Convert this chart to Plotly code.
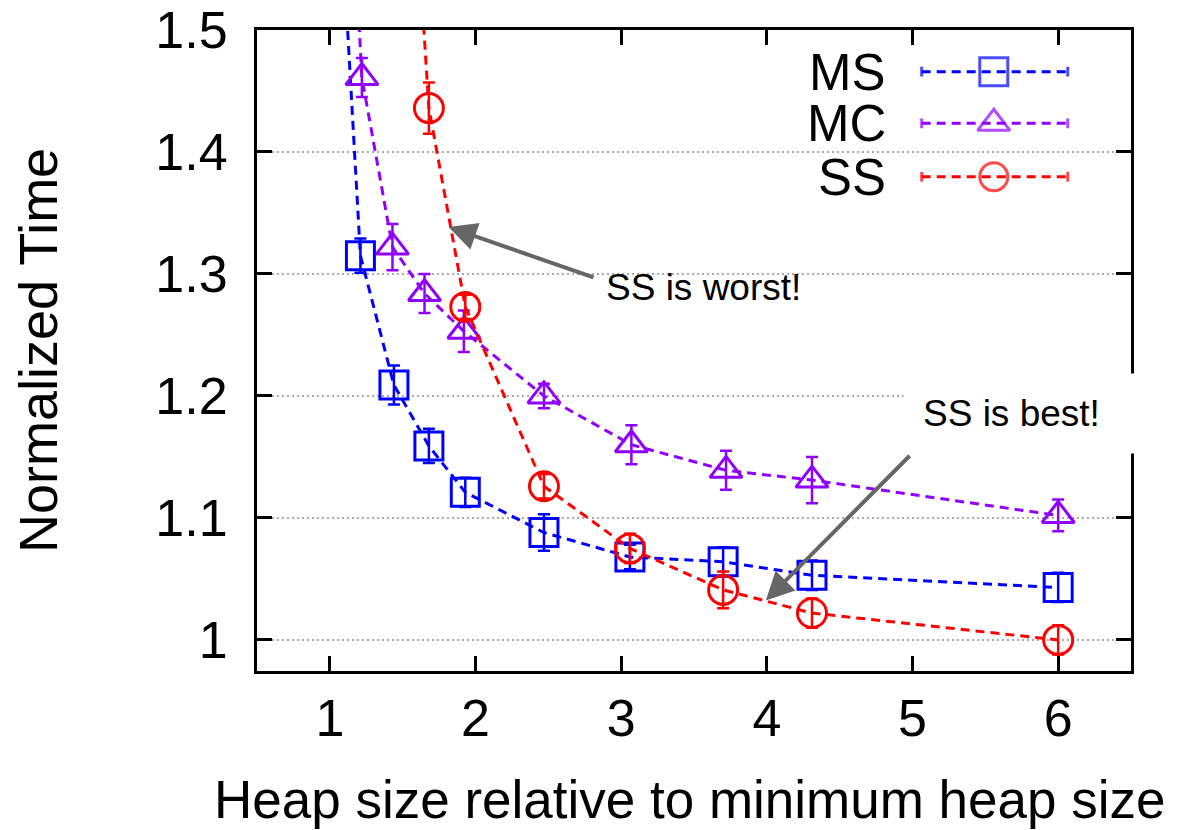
import plotly.graph_objects as go

# ---------------- data ----------------
ms_x = [1.0, 1.21, 1.44, 1.68, 1.93, 2.47, 3.06, 3.70, 4.31, 6.0]
ms_y = [1.757, 1.315, 1.209, 1.159, 1.121, 1.088, 1.068, 1.064, 1.053, 1.043]
ms_err = [0.0, 0.014, 0.016, 0.014, 0.012, 0.015, 0.010, 0.012, 0.012, 0.012]

mc_x = [1.0, 1.22, 1.43, 1.65, 1.92, 2.47, 3.07, 3.72, 4.31, 6.0]
mc_y = [1.96, 1.461, 1.322, 1.284, 1.253, 1.200, 1.160, 1.139, 1.131, 1.102]
mc_err = [0.0, 0.016, 0.019, 0.016, 0.017, 0.010, 0.016, 0.016, 0.019, 0.013]

ss_x = [1.44, 1.68, 1.93, 2.47, 3.06, 3.70, 4.31, 6.0]
ss_y = [1.884, 1.436, 1.273, 1.126, 1.075, 1.041, 1.022, 1.000]
ss_err = [0.0, 0.021, 0.010, 0.010, 0.012, 0.015, 0.012, 0.012]

series_names = ["MS", "MC", "SS"]
y_ticks = [1.0, 1.1, 1.2, 1.3, 1.4, 1.5]
y_ticktext = ["1", "1.1", "1.2", "1.3", "1.4", "1.5"]
x_ticks = [1, 2, 3, 4, 5, 6]
x_title = "Heap size relative to minimum heap size"
y_title = "Normalized Time"

# ---------------- style ----------------
FONT = "Liberation Sans, Arial, Helvetica, sans-serif"
C_MS = "#0000ff"
C_MC = "#9000ff"
C_SS = "#ff0000"
DASH = "9px,6px"
ARROW = "#666666"

fig = go.Figure()

def add_series(x, y, e, color, symbol, size):
    fig.add_trace(go.Scatter(
        x=x, y=y, mode="lines+markers",
        line=dict(color=color, width=3, dash=DASH),
        marker=dict(symbol=symbol, size=size, color=color,
                    line=dict(color=color, width=3)),
        error_y=dict(type="data", array=e, visible=True, color=color,
                     thickness=2.5, width=6),
        showlegend=False,
    ))

add_series(ms_x, ms_y, ms_err, C_MS, "square-open", 28)
add_series(mc_x, mc_y, mc_err, C_MC, "triangle-up-open", 28)
add_series(ss_x, ss_y, ss_err, C_SS, "circle-open", 29)

# ---------------- manual legend (gnuplot style: text left, sample right) --------
leg_rows = [0.935, 0.8544, 0.7711]
leg_x = [0.7605, 0.843, 0.9276]
leg_symbols = ["square-open", "triangle-up-open", "circle-open"]
leg_colors = [C_MS, C_MC, C_SS]
for name, yy, sym, col in zip(series_names, leg_rows, leg_symbols, leg_colors):
    fig.add_trace(go.Scatter(
        x=leg_x, y=[yy] * 3, xaxis="x2", yaxis="y2", mode="lines+markers",
        line=dict(color=col, width=3, dash=DASH),
        marker=dict(symbol=["line-ns", sym, "line-ns"], size=[7, 28, 7],
                    color=col, line=dict(color=col, width=3)),
        showlegend=False, hoverinfo="skip",
    ))
    fig.add_annotation(xref="paper", yref="paper", x=0.722, y=yy,
                       xanchor="right", yanchor="middle", text=name, height=50,
                       showarrow=False, font=dict(family=FONT, size=51, color="black"))

fig.add_shape(type="rect", xref="paper", yref="paper", x0=0.651, x1=0.962,
              y0=0.727, y1=0.977, fillcolor="white", line=dict(width=0),
              layer="between")

# ---------------- axis titles ----------------
fig.add_annotation(xref="paper", yref="paper", x=0.4954, y=-0.2012,
                   xanchor="center", yanchor="middle", text=x_title, showarrow=False,
                   font=dict(family=FONT, size=53, color="black"))
fig.add_annotation(xref="paper", yref="paper", x=-0.2506, y=0.5008, textangle=-90,
                   xanchor="center", yanchor="middle", text=y_title, showarrow=False,
                   font=dict(family=FONT, size=54, color="black"))

# ---------------- annotations ----------------
fig.add_annotation(x=1.815, y=1.3385, ax=2.82, ay=1.2967, axref="x", ayref="y",
                   text="", showarrow=True, arrowhead=2, arrowsize=1.4,
                   arrowwidth=4, arrowcolor=ARROW, standoff=0)
fig.add_annotation(x=2.884, y=1.2885, xanchor="left", yanchor="middle",
                   text="SS is worst!", showarrow=False,
                   font=dict(family=FONT, size=37, color="black"))
fig.add_annotation(x=3.993, y=1.0323, ax=4.991, ay=1.1522, axref="x", ayref="y",
                   text="", showarrow=True, arrowhead=2, arrowsize=1.4,
                   arrowwidth=4, arrowcolor=ARROW, standoff=0)
fig.add_annotation(x=4.932, y=1.1854, xanchor="left", yanchor="middle",
                   text="SS is best!", showarrow=False, width=196, align="left",
                   borderpad=19, bgcolor="white",
                   font=dict(family=FONT, size=37, color="black"))

# ---------------- layout ----------------
axis_common = dict(showline=True, linecolor="black", linewidth=3, mirror="ticks",
                   ticks="inside", ticklen=15, tickwidth=2.5, tickcolor="black",
                   zeroline=False, automargin=False,
                   tickfont=dict(family=FONT, size=52, color="black"))

fig.update_layout(
    width=1179, height=830,
    margin=dict(l=257, r=48, t=30, b=159),
    paper_bgcolor="white", plot_bgcolor="white",
    showlegend=False,
    font=dict(family=FONT, color="black"),
    xaxis=dict(range=[0.5, 6.5], tickvals=x_ticks, showgrid=False,
               ticklabelstandoff=0, **axis_common),
    yaxis=dict(range=[0.9745, 1.5], tickvals=y_ticks, ticktext=y_ticktext,
               showgrid=True, gridcolor="#aaaaaa", gridwidth=1.5,
               griddash="1.5px,3.5px", ticklabelstandoff=16, **axis_common),
    xaxis2=dict(overlaying="x", range=[0, 1], visible=False, fixedrange=True),
    yaxis2=dict(overlaying="y", range=[0, 1], visible=False, fixedrange=True),
)

fig.write_html("out.html")
